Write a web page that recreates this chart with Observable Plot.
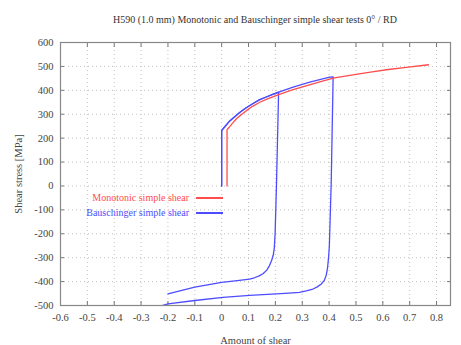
<!DOCTYPE html>
<html>
<head>
<meta charset="utf-8">
<script src="https://cdn.jsdelivr.net/npm/d3@7"></script>
<script src="https://cdn.jsdelivr.net/npm/@observablehq/plot@0.6"></script>
<style>
  html, body { margin: 0; padding: 0; background: #fff; }
  #wrap { position: relative; width: 461px; height: 345px; font-family: "Liberation Serif", "Times New Roman", serif; }
  #title { position: absolute; top: 14px; left: 0; width: 510px; text-align: center; font-size: 10px; color: #333; }
  #legend { position: absolute; left: 60px; top: 190px; width: 163px; font-size: 10px; }
  .row { display: flex; justify-content: flex-end; align-items: center; height: 15px; }
  .row span { margin-right: 7px; white-space: nowrap; }
  .row i { display: inline-block; width: 27px; height: 0; }
</style>
</head>
<body>
<div id="wrap">
  <div id="chart"></div>
  <div id="title">H590 (1.0 mm) Monotonic and Bauschinger simple shear tests 0° / RD</div>
  <div id="legend"></div>
</div>
<script>
// Monotonic simple shear
const monoX = [0.02, 0.02, 0.03, 0.04, 0.055, 0.075, 0.092, 0.115, 0.142, 0.175, 0.21, 0.26, 0.33, 0.375, 0.42, 0.5, 0.56, 0.62, 0.68, 0.77];
const monoY = [0, 235, 248, 262, 281, 300, 315, 333, 350, 366, 381, 401, 424, 438, 452, 467, 477, 487, 495, 507];

// Bauschinger simple shear, pre-strain ~0.2
const b1X = [0, 0, 0.03, 0.067, 0.09, 0.117, 0.14, 0.166, 0.19, 0.212, 0.204, 0.199, 0.196, 0.192, 0.186, 0.178, 0.168, 0.155, 0.14, 0.122, 0.104, 0.05, 0.0, -0.1, -0.2];
const b1Y = [0, 232, 272, 307, 326, 345, 360, 372, 383, 392, 0, -200, -260, -290, -312, -333, -352, -366, -376, -384, -390, -397, -403, -423, -451];

// Bauschinger simple shear, pre-strain ~0.4
const b2X = [0, 0, 0.03, 0.067, 0.09, 0.117, 0.14, 0.166, 0.19, 0.21, 0.266, 0.328, 0.402, 0.415, 0.408, 0.401, 0.398, 0.394, 0.389, 0.382, 0.371, 0.356, 0.34, 0.315, 0.29, 0.25, 0.204, 0.104, 0.005, -0.1, -0.2, -0.25];
const b2Y = [0, 232, 272, 307, 326, 345, 360, 372, 383, 391, 413, 434, 455, 456, 20, -250, -300, -345, -375, -395, -410, -422, -431, -439, -445, -448, -451, -458, -466, -479, -493, -510];

const xTicks = [-0.6, -0.5, -0.4, -0.3, -0.2, -0.1, 0, 0.1, 0.2, 0.3, 0.4, 0.5, 0.6, 0.7, 0.8];
const yTicks = [-500, -400, -300, -200, -100, 0, 100, 200, 300, 400, 500, 600];

const seriesNames = ["Monotonic simple shear", "Bauschinger simple shear"];
const seriesColors = ["#ff4d4d", "#4d4dff"];

const toRows = (xs, ys, id) => xs.map((x, i) => ({x, y: ys[i], id}));
const mono = toRows(monoX, monoY, "m");
const bau = [...toRows(b1X, b1Y, "b1"), ...toRows(b2X, b2Y, "b2")];

const fmt = d => String(d);

const chart = Plot.plot({
  width: 461,
  height: 345,
  marginLeft: 60,
  marginRight: 11,
  marginTop: 42,
  marginBottom: 40,
  style: {fontFamily: "'Liberation Serif', 'Times New Roman', serif", fontSize: "10.5px", color: "#444", background: "#fff"},
  x: {domain: [-0.6, 0.852], label: "Amount of shear"},
  y: {domain: [-500, 600], label: "Shear stress [MPa]"},
  marks: [
    Plot.gridX(xTicks, {stroke: "#bbb", strokeOpacity: 0.9, strokeDasharray: "1,3"}),
    Plot.gridY(yTicks, {stroke: "#bbb", strokeOpacity: 0.9, strokeDasharray: "1,3"}),
    Plot.axisX(xTicks, {anchor: "bottom", tickSize: -4, tickPadding: 12, tickFormat: fmt, stroke: "#777",
      label: "Amount of shear", labelAnchor: "center", labelOffset: 38, labelArrow: "none"}),
    Plot.axisX(xTicks, {anchor: "top", tickSize: -4, tickFormat: () => "", stroke: "#777", label: null}),
    Plot.axisY(yTicks, {anchor: "left", tickSize: -4, tickPadding: 11, tickFormat: fmt, stroke: "#777",
      label: "Shear stress [MPa]", labelAnchor: "center", labelOffset: 46, labelArrow: "none"}),
    Plot.axisY(yTicks, {anchor: "right", tickSize: -4, tickFormat: () => "", stroke: "#777", label: null}),
    Plot.line(bau, {x: "x", y: "y", z: "id", stroke: seriesColors[1], strokeWidth: 1.3, strokeLinejoin: "round", clip: true}),
    Plot.line(mono, {x: "x", y: "y", stroke: seriesColors[0], strokeWidth: 1.3, strokeLinejoin: "round", clip: true}),
    Plot.frame({stroke: "#888", strokeWidth: 1.2})
  ]
});
document.getElementById("chart").appendChild(chart);

const legend = document.getElementById("legend");
seriesNames.forEach((name, i) => {
  const row = document.createElement("div");
  row.className = "row";
  const s = document.createElement("span");
  s.textContent = name;
  s.style.color = seriesColors[i];
  const line = document.createElement("i");
  line.style.borderTop = `2px solid ${seriesColors[i]}`;
  row.appendChild(s);
  row.appendChild(line);
  legend.appendChild(row);
});
</script>
</body>
</html>
